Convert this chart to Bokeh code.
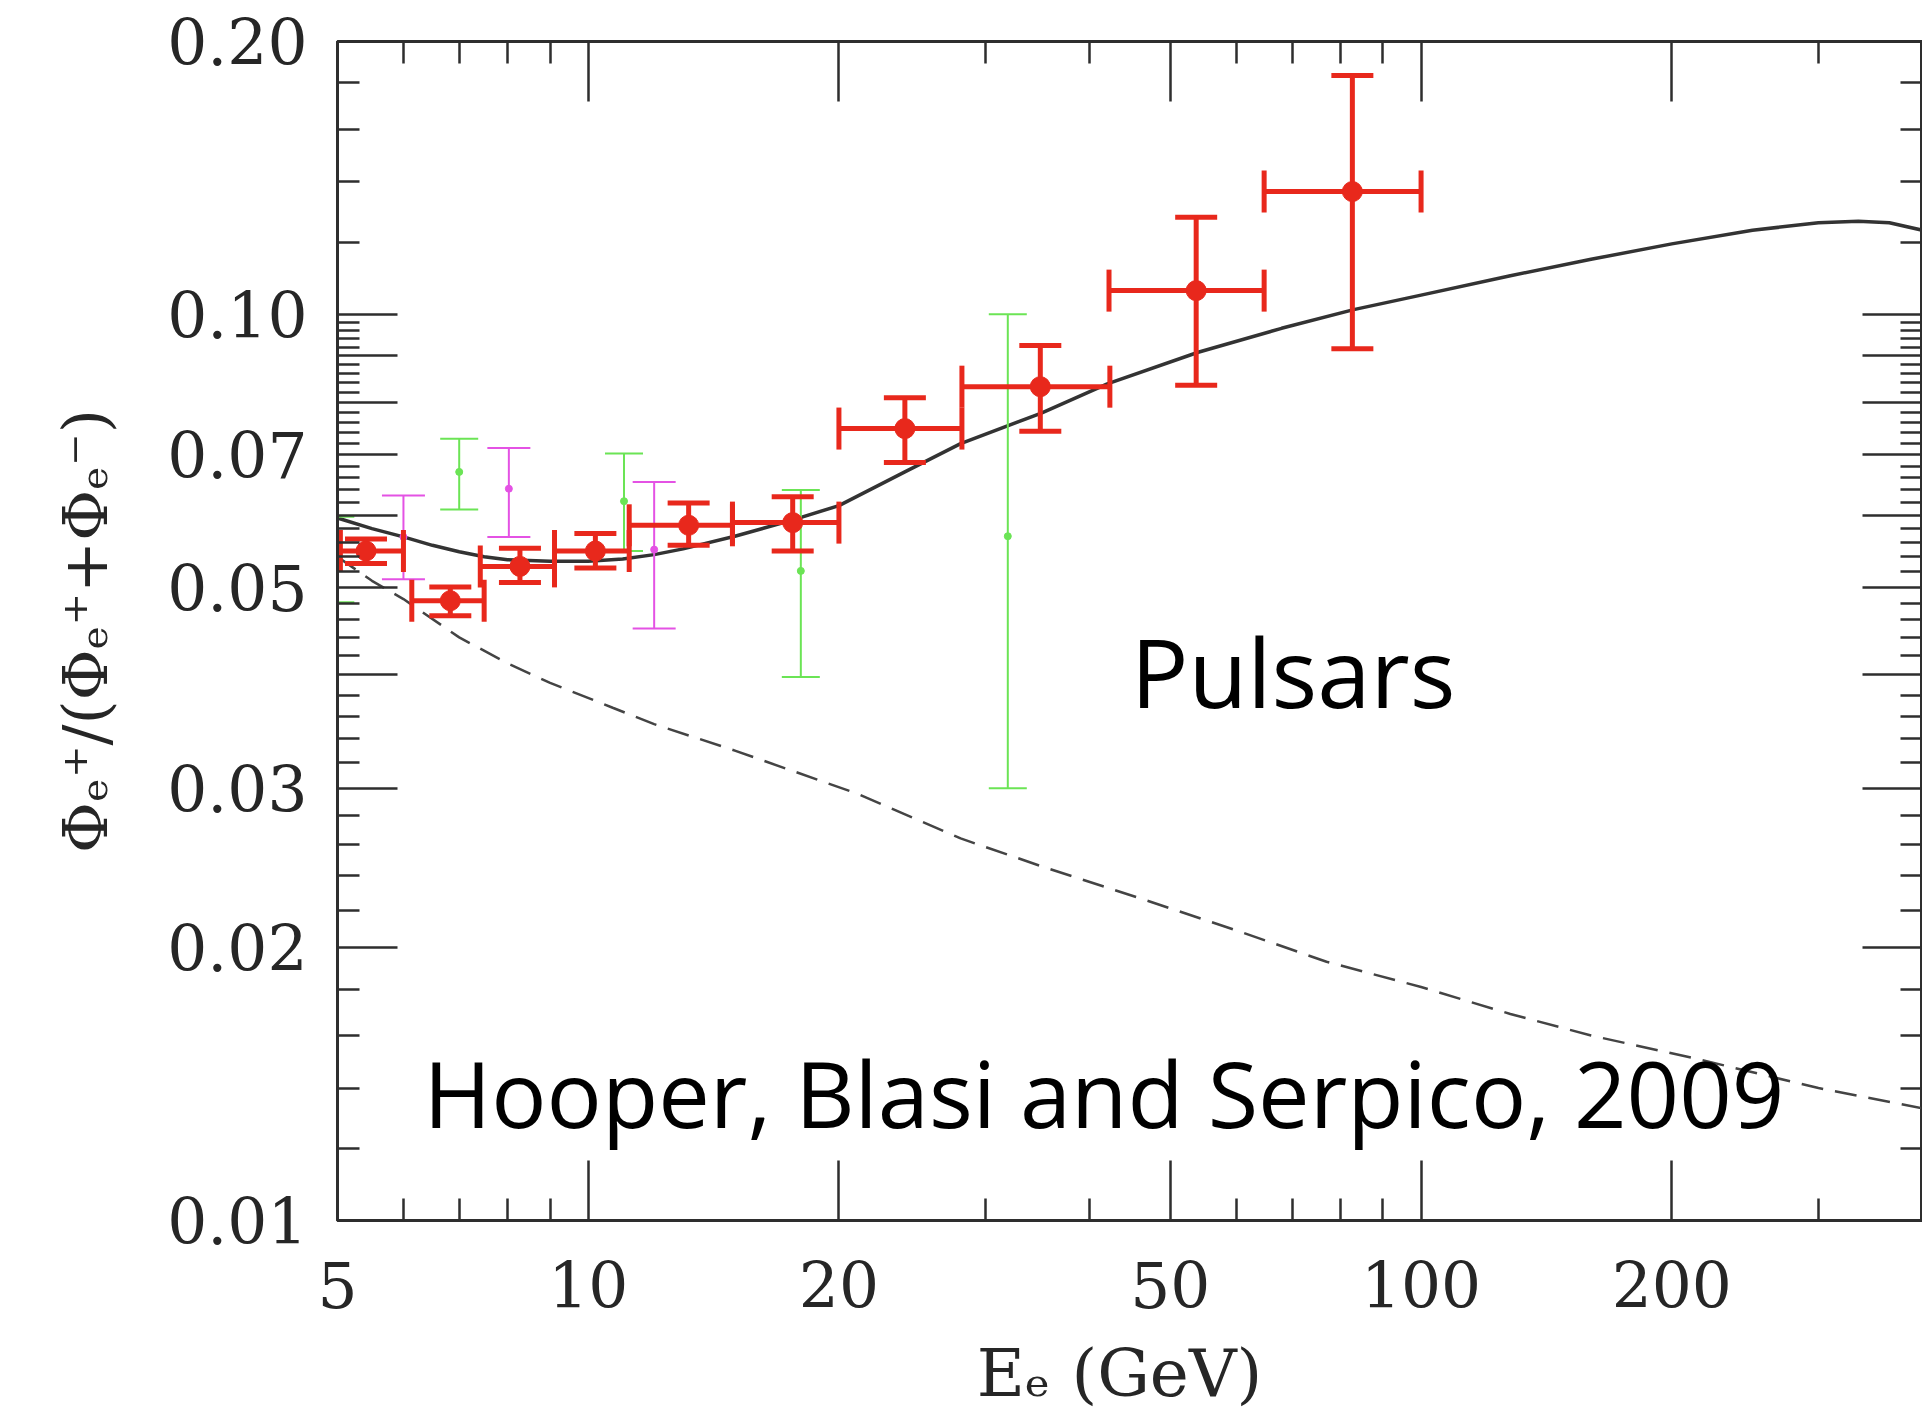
import numpy as np
from bokeh.plotting import figure
from bokeh.models import FixedTicker, CustomJSTickFormatter, LogAxis, Label, ColumnDataSource
from bokeh.embed import file_html
from bokeh.resources import INLINE

# ---------------- data ----------------
# PAMELA positron fraction (red)
pam_x = [5.41, 6.83, 8.28, 10.2, 13.2, 17.6, 24.0, 34.9, 53.7, 82.7]
pam_xlo = [5.04, 6.14, 7.42, 9.11, 11.2, 14.9, 20.0, 28.1, 42.2, 64.8]
pam_xhi = [6.00, 7.50, 9.11, 11.2, 14.9, 20.0, 28.1, 42.3, 64.8, 100.0]
pam_y = [0.0548, 0.0483, 0.0527, 0.0548, 0.0585, 0.0589, 0.0748, 0.0832, 0.1062, 0.1366]
pam_ylo = [0.0531, 0.0465, 0.0506, 0.0525, 0.0556, 0.0548, 0.0686, 0.0743, 0.0835, 0.0916]
pam_yhi = [0.0565, 0.0500, 0.0552, 0.0573, 0.0619, 0.0629, 0.0809, 0.0924, 0.1280, 0.1834]

# green data set
grn_x = [4.97, 7.0, 11.04, 18.0, 31.9]
grn_y = [0.0541, 0.0670, 0.0622, 0.0521, 0.0569]
grn_ylo = [0.0481, 0.0609, 0.0548, 0.0398, 0.0300]
grn_yhi = [0.0598, 0.0729, 0.0702, 0.0640, 0.1000]

# magenta data set
mag_x = [6.0, 8.03, 12.0]
mag_y = [0.0568, 0.0642, 0.0550]
mag_ylo = [0.0510, 0.0568, 0.0450]
mag_yhi = [0.0631, 0.0712, 0.0653]

# model: secondary + pulsars (solid)
tot_x = [5, 5.5, 6, 6.5, 7, 7.5, 8, 9, 10, 11, 12, 13, 15, 17.5, 20, 24, 28, 35, 42,
         54, 68, 83, 100, 128, 160, 200, 250, 300, 335, 365, 400]
tot_y = [0.0596, 0.0580, 0.0568, 0.0556, 0.0547, 0.0540, 0.0536, 0.0534, 0.0534, 0.0537,
         0.0543, 0.0551, 0.0569, 0.0592, 0.0615, 0.0670, 0.0720, 0.0778, 0.0838, 0.0908,
         0.0965, 0.1012, 0.1050, 0.1103, 0.1150, 0.1196, 0.1238, 0.1262, 0.1267, 0.1262, 0.1238]

# secondary only (dashed)
bg_x = [5, 5.5, 6, 7, 8, 9, 10.7, 12, 15, 21, 28, 35, 46.5, 60, 77, 100, 128, 160, 213, 300, 400]
bg_y = [0.0540, 0.0508, 0.0485, 0.0440, 0.0412, 0.0392, 0.0368, 0.0353, 0.0330, 0.0296, 0.0264,
        0.0246, 0.0226, 0.0209, 0.0193, 0.0181, 0.0169, 0.0160, 0.0151, 0.0140, 0.0133]

# ticks
x_ticks = [5, 10, 20, 50, 100, 200]
x_tick_labels = ["5", "10", "20", "50", "100", "200"]
x_minor = [6, 7, 8, 9, 30, 40, 60, 70, 80, 90, 300, 400]
y_ticks = [0.01, 0.02, 0.03, 0.04, 0.05, 0.06, 0.07, 0.08, 0.09, 0.10, 0.20]
y_tick_labels = ["0.01", "0.02", "0.03", "", "0.05", "", "0.07", "", "", "0.10", "0.20"]
y_minor = [0.012, 0.014, 0.016, 0.018, 0.022, 0.024, 0.026, 0.028, 0.032, 0.034, 0.036, 0.038,
           0.042, 0.044, 0.046, 0.048, 0.052, 0.054, 0.056, 0.058, 0.062, 0.064, 0.066, 0.068,
           0.072, 0.074, 0.076, 0.078, 0.082, 0.084, 0.086, 0.088, 0.092, 0.094, 0.096, 0.098,
           0.12, 0.14, 0.16, 0.18]

x_title = "Eₑ  (GeV)"
y_title = "Φₑ⁺/(Φₑ⁺+Φₑ⁻)"
note_1 = "Pulsars"
note_2 = "Hooper, Blasi and Serpico, 2009"

# ---------------- figure ----------------
INK = "#2e2e2e"
RED = "#e8281c"
GREEN = "#6be455"
MAGENTA = "#e452e4"

p = figure(width=1922, height=1420, x_axis_type="log", y_axis_type="log",
           x_range=(5, 400), y_range=(0.01, 0.2),
           output_backend="svg", toolbar_location=None,
           min_border_left=337, min_border_right=0, min_border_top=41, min_border_bottom=200)
p.xgrid.visible = False
p.ygrid.visible = False
p.outline_line_color = INK
p.outline_line_width = 3
p.background_fill_color = "white"
p.border_fill_color = "white"

bottom = p.below[0]
left = p.left[0]

LOOKUP = ("for (let i = 0; i < vals.length; i++) {"
          " if (Math.abs(vals[i] - tick) <= 1e-9 * Math.max(1, Math.abs(tick))) return labs[i]; }"
          " return '';")


def style_axis(ax, ticks, minor, labels, show):
    ax.ticker = FixedTicker(ticks=ticks, minor_ticks=minor)
    ax.major_tick_in = 60
    ax.major_tick_out = 0
    ax.minor_tick_in = 22
    ax.minor_tick_out = 0
    ax.major_tick_line_color = INK
    ax.minor_tick_line_color = INK
    ax.major_tick_line_width = 2.5
    ax.minor_tick_line_width = 2.5
    ax.axis_line_color = INK
    ax.axis_line_width = 3
    if show:
        ax.formatter = CustomJSTickFormatter(args=dict(vals=ticks, labs=labels), code=LOOKUP)
        ax.major_label_text_font = "DejaVu Serif"
        ax.major_label_text_font_size = "63px"
        ax.major_label_text_color = "#262626"
    else:
        ax.formatter = CustomJSTickFormatter(code="return '';")
        ax.major_label_text_font_size = "0px"
        ax.major_label_standoff = 0


style_axis(bottom, x_ticks, x_minor, x_tick_labels, True)
style_axis(left, y_ticks, y_minor, y_tick_labels, True)
bottom.major_label_standoff = 40
left.major_label_standoff = 30

top = LogAxis()
style_axis(top, x_ticks, x_minor, x_tick_labels, False)
p.add_layout(top, "above")
right = LogAxis()
style_axis(right, y_ticks, y_minor, y_tick_labels, False)
p.add_layout(right, "right")

bottom.axis_label = x_title
bottom.axis_label_text_font = "DejaVu Serif"
bottom.axis_label_text_font_size = "66px"
bottom.axis_label_text_font_style = "normal"
bottom.axis_label_text_color = "#262626"
bottom.axis_label_standoff = 24

left.axis_label = y_title
left.axis_label_text_font = "DejaVu Serif"
left.axis_label_text_font_size = "62px"
left.axis_label_text_font_style = "normal"
left.axis_label_text_color = "#262626"
left.axis_label_standoff = 42

# ---------------- curves ----------------
p.line(bg_x, bg_y, line_color="#444444", line_width=2.5, line_dash="22 12")
p.line(tot_x, tot_y, line_color="#333333", line_width=3.5)


# ---------------- error bars ----------------
def yerr(x, y, ylo, yhi, color, lw, cap, dot):
    src = ColumnDataSource(dict(x=x, y=y, ylo=ylo, yhi=yhi))
    p.segment(x0="x", y0="ylo", x1="x", y1="yhi", source=src, line_color=color, line_width=lw)
    p.scatter(x="x", y="ylo", marker="dash", size=cap, line_color=color, line_width=lw, source=src)
    p.scatter(x="x", y="yhi", marker="dash", size=cap, line_color=color, line_width=lw, source=src)
    p.scatter(x="x", y="y", marker="circle", size=dot, line_color=color, fill_color=color, source=src)


yerr(grn_x, grn_y, grn_ylo, grn_yhi, GREEN, 2, 38, 7)
yerr(mag_x, mag_y, mag_ylo, mag_yhi, MAGENTA, 2, 43, 7)

psrc = ColumnDataSource(dict(x=pam_x, y=pam_y, xlo=pam_xlo, xhi=pam_xhi, ylo=pam_ylo, yhi=pam_yhi))
p.segment(x0="xlo", y0="y", x1="xhi", y1="y", source=psrc, line_color=RED, line_width=5)
p.scatter(x="xlo", y="y", marker="dash", angle=np.pi / 2, size=42, line_color=RED, line_width=5, source=psrc)
p.scatter(x="xhi", y="y", marker="dash", angle=np.pi / 2, size=42, line_color=RED, line_width=5, source=psrc)
yerr(pam_x, pam_y, pam_ylo, pam_yhi, RED, 5, 42, 20)

# ---------------- annotations ----------------
p.add_layout(Label(x=44.8, y=0.0405, text=note_1, text_font="Open Sans", text_font_size="96px",
                   text_color="black", text_baseline="alphabetic"))
p.add_layout(Label(x=6.34, y=0.01385, text=note_2, text_font="Open Sans", text_font_size="92px",
                   text_color="black", text_baseline="alphabetic"))

open("out.html", "w").write(file_html(p, INLINE))
